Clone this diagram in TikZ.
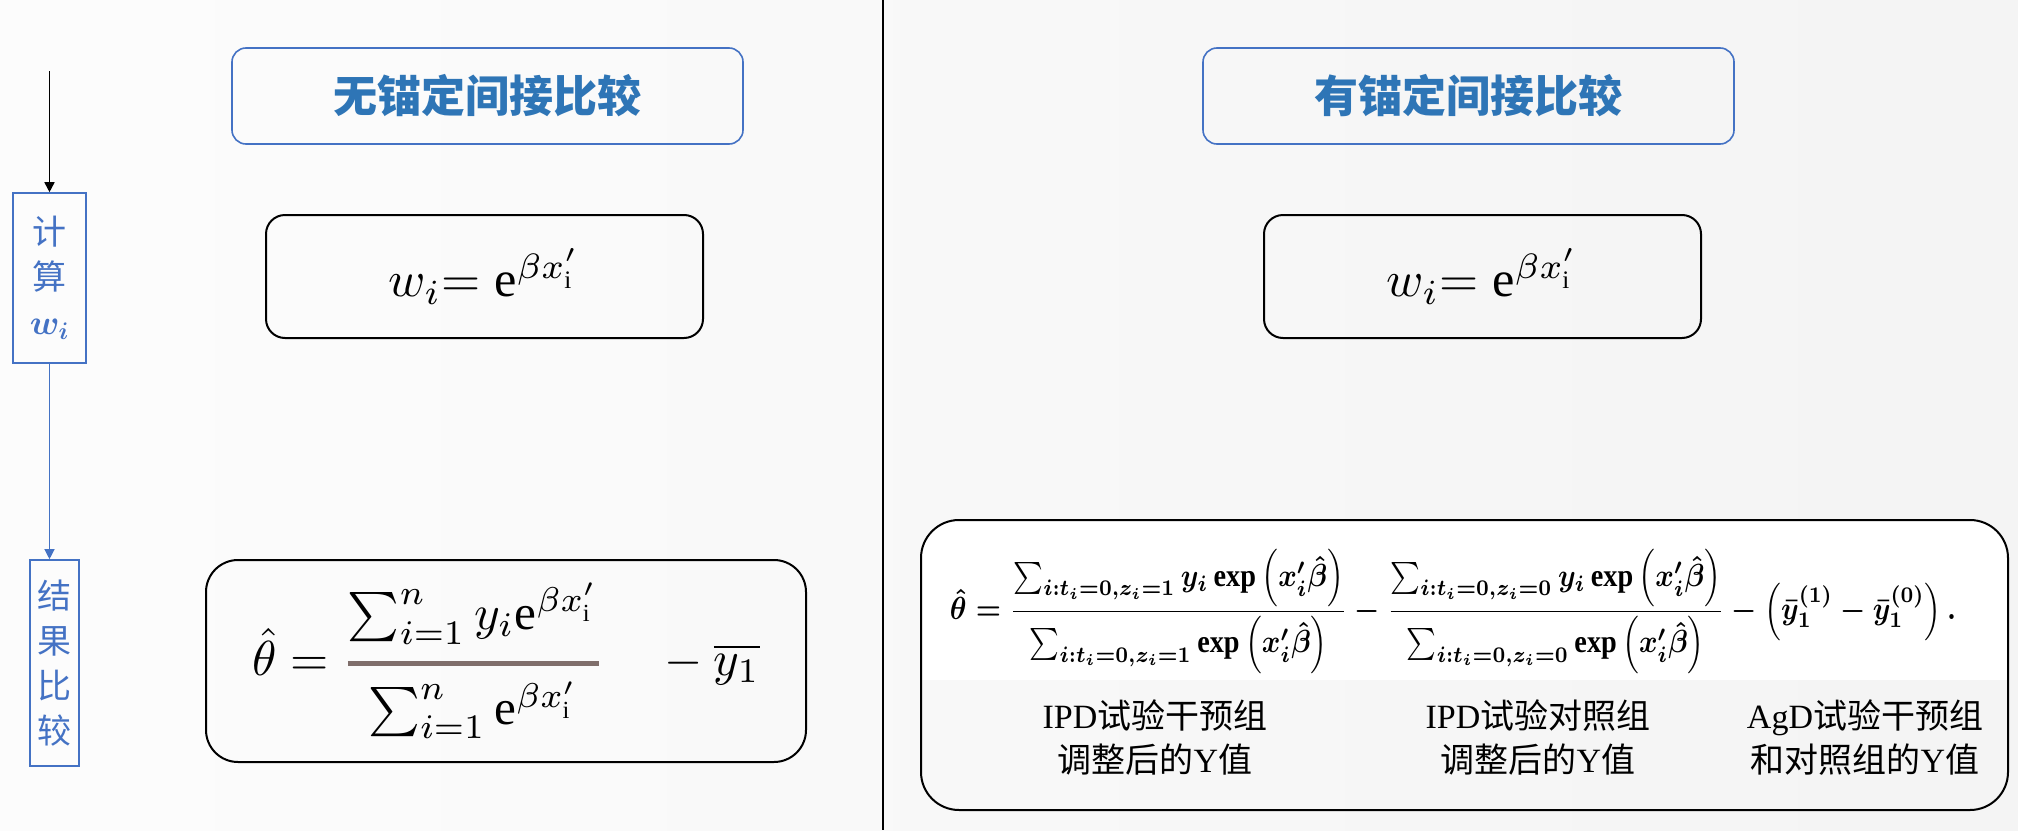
\documentclass[tikz,border=0pt]{standalone}
\usepackage{amsmath,bm}
\usepackage{fontspec}
\setmainfont{Liberation Serif}
\newfontfamily\cjk{Noto Sans CJK SC}
\usetikzlibrary{arrows.meta}
\definecolor{bblue}{HTML}{4472C4}
\definecolor{tblue}{HTML}{2E75B6}
\definecolor{barc}{HTML}{7F6E6B}
\tikzset{
  sidebox/.style={draw=bblue, line width=0.8pt, text=bblue, align=center, inner sep=0pt,
    font=\cjk\fontsize{17}{22.5}\selectfont},
  titlebox/.style={draw=bblue, line width=0.8pt, rounded corners=7pt, minimum width=255.5pt,
    minimum height=48pt, text=tblue, font=\cjk\bfseries\fontsize{22}{26}\selectfont},
  wbox/.style={draw=black, line width=1pt, rounded corners=9.5pt, minimum width=218.5pt,
    minimum height=61.5pt},
  bigbox/.style={draw=black, line width=1pt},
  lbl/.style={align=center, font=\fontsize{17}{22}\selectfont, inner sep=0pt},
  arr/.style={-{Triangle[width=5pt,length=5pt]}}
}
\newcommand{\wform}{\resizebox{96pt}{!}{$w_i\mathrm{=}\;\mathrm{e}^{\beta x_{\mathrm{i}}'}$}}
\begin{document}
\begin{tikzpicture}[x=0.5pt,y=-0.5pt]
\useasboundingbox (0,0) rectangle (2018,830);
\shade[left color=gray!2, right color=gray!9] (0,0) rectangle (2018,830);
% divider
\coordinate (dtop) at (883,0);
\coordinate (dbot) at (883,830);
\draw[line width=1.3pt] (dtop) -- (dbot);
% left side flow
\node[sidebox, minimum width=36.5pt, minimum height=85pt] (calc) at (49.5,278)
  {计\\算\\$\bm{w_i}$};
\node[sidebox, minimum width=24.5pt, minimum height=103pt] (res) at (54.5,663)
  {结\\果\\比\\较};
\coordinate (top) at (49.5,71);
\draw[arr, line width=0.8pt] (top) -- (calc.north);
\draw[arr, draw=bblue, fill=bblue, line width=0.6pt] (calc.south) -- (res.north -| calc.south);
% titles
\node[titlebox] (t1) at (487.5,96) {无锚定间接比较};
\node[titlebox, minimum width=265.5pt] (t2) at (1468.5,96) {有锚定间接比较};
% w boxes
\node[wbox] (w1) at (484.5,276.5) {\wform};
\node[wbox] (w2) at (1482.5,276.5) {\wform};
% left theta box
\node[draw=black, line width=1pt, rounded corners=16pt, minimum width=300pt, minimum height=101pt] (th1) at (506,661)
  {\resizebox{254pt}{!}{$\displaystyle \hat{\theta} = {\color{barc}\genfrac{}{}{1.1pt}{}{\color{black}\sum_{i=1}^{n} y_i\mathrm{e}^{\beta x_{\mathrm{i}}'}}{\color{black}\sum_{i=1}^{n}\mathrm{e}^{\beta x_{\mathrm{i}}'}}}\quad - \overline{y_1}$}};
% right big box
\begin{scope}
  \clip[rounded corners=19pt] (921,520) rectangle (2008,810);
  \fill[white] (921,520) rectangle (2008,680);
\end{scope}
\node[bigbox, rounded corners=19pt, minimum width=543.5pt, minimum height=145pt] (th2) at (1464.5,665) {};
\node[inner sep=0pt] (f2) at (1453,611.5) {\resizebox*{503pt}{62pt}{\boldmath$\displaystyle
  \hat{\theta} = \frac{\sum_{i:t_i=0,z_i=1} y_i \exp\left(x_i'\hat{\beta}\right)}{\sum_{i:t_i=0,z_i=1}\exp\left(x_i'\hat{\beta}\right)}
  - \frac{\sum_{i:t_i=0,z_i=0} y_i \exp\left(x_i'\hat{\beta}\right)}{\sum_{i:t_i=0,z_i=0}\exp\left(x_i'\hat{\beta}\right)}
  - \left(\bar{y}_1^{(1)} - \bar{y}_1^{(0)}\right).$}};
\node[lbl] (l1) at (1155,737.5) {IPD{\cjk 试验干预组}\\{\cjk 调整后的}Y{\cjk 值}};
\node[lbl] (l2) at (1538,737.5) {IPD{\cjk 试验对照组}\\{\cjk 调整后的}Y{\cjk 值}};
\node[lbl] (l3) at (1865,737.5) {AgD{\cjk 试验干预组}\\{\cjk 和对照组的}Y{\cjk 值}};
\end{tikzpicture}
\end{document}
